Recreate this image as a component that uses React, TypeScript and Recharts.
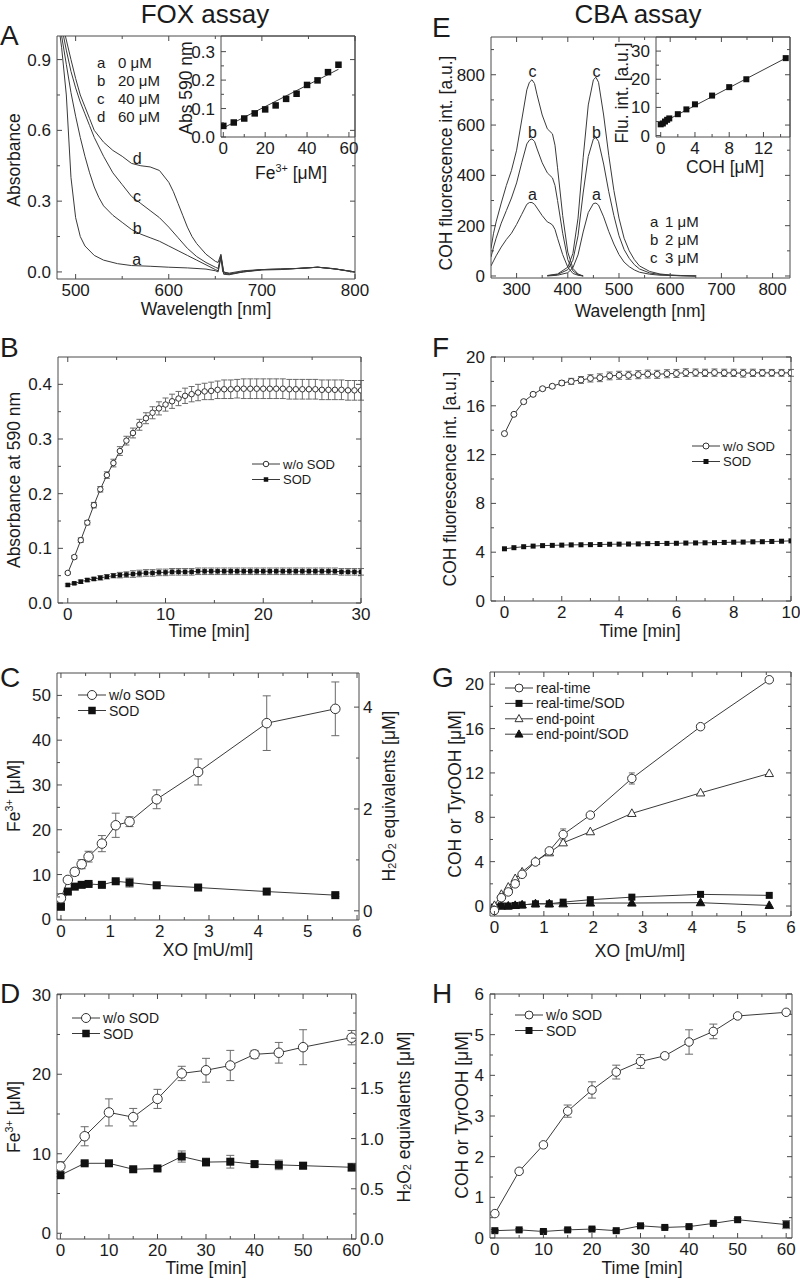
import React from "react";
import { ComposedChart, Line, XAxis, YAxis, ErrorBar, ReferenceDot } from "recharts";

// ---------- A: FOX spectra (wavelength [nm] / absorbance) ----------
const foxWlA = [480, 485, 490, 495, 500, 505, 510, 520, 530, 545, 560, 580, 600, 620, 640, 650, 653, 656, 658, 665, 680, 700, 720, 740, 760, 775, 790, 800];
const foxAbsA = [1.1, 0.95, 0.75, 0.4, 0.23, 0.15, 0.11, 0.07, 0.05, 0.035, 0.027, 0.024, 0.02, 0.017, 0.012, 0.005, 0.0, 0.06, 0.0, -0.005, 0.005, 0.01, 0.012, 0.015, 0.02, 0.015, 0.005, 0.0];
const foxWlB = [480, 485, 490, 495, 500, 505, 510, 515, 520, 525, 530, 540, 550, 560, 570, 580, 590, 600, 610, 620, 630, 640, 650, 653, 656, 659, 665, 680, 700, 720, 740, 760, 780, 800];
const foxAbsB = [1.15, 1.0, 0.88, 0.76, 0.66, 0.57, 0.49, 0.42, 0.36, 0.315, 0.28, 0.24, 0.21, 0.18, 0.16, 0.145, 0.13, 0.11, 0.09, 0.07, 0.05, 0.03, 0.01, 0.005, 0.065, -0.01, -0.012, 0.0, 0.008, 0.01, 0.015, 0.02, 0.012, 0.0];
const foxWlC = [480, 487, 490, 495, 500, 505, 510, 515, 520, 530, 540, 550, 560, 570, 580, 590, 600, 610, 620, 630, 640, 650, 653, 656, 659, 665, 680, 700, 720, 740, 760, 780, 800];
const foxAbsC = [1.2, 1.0, 0.94, 0.85, 0.78, 0.72, 0.67, 0.62, 0.57, 0.49, 0.42, 0.37, 0.32, 0.29, 0.26, 0.23, 0.19, 0.145, 0.1, 0.065, 0.04, 0.02, 0.015, 0.07, -0.005, -0.01, 0.002, 0.01, 0.012, 0.015, 0.02, 0.012, 0.0];
const foxWlD = [480, 489, 495, 500, 505, 510, 515, 520, 530, 540, 550, 560, 570, 580, 590, 600, 605, 610, 615, 620, 625, 630, 640, 650, 653, 656, 659, 665, 680, 700, 720, 740, 760, 780, 800];
const foxAbsD = [1.25, 1.0, 0.9, 0.82, 0.75, 0.7, 0.65, 0.6, 0.55, 0.515, 0.49, 0.46, 0.45, 0.445, 0.43, 0.38, 0.34, 0.29, 0.24, 0.19, 0.15, 0.12, 0.075, 0.045, 0.04, 0.075, 0.0, -0.008, 0.0, 0.01, 0.012, 0.015, 0.02, 0.012, 0.0];
const foxLetters = ["a", "b", "c", "d"];
const foxConc = ["0 μM", "20 μM", "40 μM", "60 μM"];
const foxLabelWl = [565.6, 566, 566, 566];
const foxLabelAbs = [0.054, 0.186, 0.32, 0.48];

// A inset: calibration
const insFeA = [0, 5, 10, 15, 20, 25, 30, 35, 40, 45, 50, 55];
const insAbsA = [0.039, 0.051, 0.065, 0.083, 0.097, 0.111, 0.134, 0.152, 0.183, 0.199, 0.228, 0.254];
const insFitXA = [0, 55];
const insFitYA = [0.032, 0.238];

// ---------- B: absorbance at 590 nm vs time ----------
const timeB = [0, 0.67, 1.33, 2, 2.67, 3.33, 4, 4.67, 5.33, 6, 6.67, 7.33, 8, 8.67, 9.33, 10, 10.67, 11.33, 12, 12.67, 13.33, 14, 14.67, 15.33, 16, 16.67, 17.33, 18, 18.67, 19.33, 20, 20.67, 21.33, 22, 22.67, 23.33, 24, 24.67, 25.33, 26, 26.67, 27.33, 28, 28.67, 29.33, 30];
const absWoB = [0.055, 0.084, 0.115, 0.147, 0.179, 0.208, 0.234, 0.256, 0.278, 0.297, 0.311, 0.326, 0.338, 0.348, 0.356, 0.363, 0.369, 0.374, 0.379, 0.382, 0.385, 0.387, 0.388, 0.39, 0.391, 0.391, 0.392, 0.392, 0.392, 0.392, 0.392, 0.392, 0.392, 0.392, 0.391, 0.391, 0.391, 0.391, 0.391, 0.39, 0.39, 0.39, 0.39, 0.389, 0.389, 0.389];
const absWoErrB = [0.002, 0.003, 0.004, 0.004, 0.005, 0.005, 0.006, 0.007, 0.008, 0.008, 0.009, 0.01, 0.01, 0.011, 0.012, 0.012, 0.013, 0.013, 0.014, 0.014, 0.015, 0.015, 0.016, 0.016, 0.017, 0.017, 0.017, 0.018, 0.018, 0.018, 0.018, 0.018, 0.018, 0.018, 0.018, 0.018, 0.018, 0.018, 0.018, 0.018, 0.018, 0.018, 0.018, 0.018, 0.018, 0.018];
const absSodB = [0.033, 0.036, 0.039, 0.042, 0.044, 0.046, 0.048, 0.05, 0.051, 0.052, 0.053, 0.054, 0.055, 0.055, 0.056, 0.056, 0.057, 0.057, 0.057, 0.057, 0.058, 0.058, 0.058, 0.058, 0.058, 0.058, 0.058, 0.058, 0.058, 0.058, 0.058, 0.058, 0.058, 0.058, 0.058, 0.058, 0.058, 0.058, 0.058, 0.058, 0.058, 0.058, 0.057, 0.057, 0.057, 0.057];
const absSodErrB = [0.002, 0.002, 0.003, 0.003, 0.003, 0.004, 0.004, 0.004, 0.005, 0.005, 0.006, 0.006, 0.006, 0.006, 0.006, 0.006, 0.006, 0.006, 0.006, 0.006, 0.006, 0.006, 0.006, 0.006, 0.006, 0.006, 0.006, 0.006, 0.006, 0.006, 0.006, 0.006, 0.006, 0.006, 0.006, 0.006, 0.006, 0.006, 0.006, 0.006, 0.006, 0.006, 0.006, 0.006, 0.006, 0.006];

// ---------- C: Fe3+ vs XO ----------
const xoC = [0, 0.14, 0.28, 0.42, 0.56, 0.83, 1.11, 1.39, 1.94, 2.78, 4.17, 5.56];
const feWoC = [4.7, 8.8, 10.6, 12.3, 14.0, 16.9, 21.0, 21.8, 26.8, 32.9, 43.8, 47.0];
const feWoErrC = [1.0, 0.5, 0.8, 1.0, 1.2, 1.8, 2.7, 1.1, 2.1, 2.9, 6.1, 6.0];
const feSodC = [2.8, 6.2, 7.3, 7.7, 7.9, 7.7, 8.5, 8.2, 7.6, 7.1, 6.2, 5.4];
const feSodErrC = [0.3, 0.3, 0.3, 0.3, 0.3, 0.3, 0.3, 1.0, 0.3, 0.3, 0.3, 0.3];

// ---------- D: Fe3+ vs time ----------
const timeD = [0, 5, 10, 15, 20, 25, 30, 35, 40, 45, 50, 60];
const feWoD = [8.4, 12.2, 15.2, 14.6, 16.9, 20.1, 20.5, 21.1, 22.5, 22.7, 23.4, 24.6];
const feWoErrD = [0.6, 1.2, 1.7, 1.1, 1.2, 0.9, 1.5, 1.9, 0.5, 1.3, 2.2, 0.9];
const feSodD = [7.3, 8.8, 8.8, 8.05, 8.15, 9.65, 8.95, 9.0, 8.7, 8.6, 8.5, 8.3];
const feSodErrD = [0.2, 0.2, 0.2, 0.2, 0.2, 0.7, 0.5, 0.8, 0.3, 0.6, 0.4, 0.5];

// ---------- E: CBA spectra (excitation / emission) ----------
const exWlE = [250, 255, 260, 270, 280, 290, 300, 310, 320, 325, 330, 335, 340, 350, 360, 365, 370, 375, 380, 390, 400, 410, 420, 430];
const exAE = [40, 60, 80, 115, 145, 170, 205, 245, 285, 292, 292, 285, 270, 240, 215, 210, 203, 185, 150, 85, 35, 10, 3, 0];
const exBE = [75, 115, 150, 210, 260, 310, 370, 450, 525, 540, 545, 535, 505, 450, 410, 400, 390, 360, 300, 170, 65, 20, 5, 0];
const exCE = [110, 170, 215, 290, 360, 420, 500, 620, 740, 770, 780, 765, 720, 640, 585, 575, 565, 520, 430, 240, 95, 30, 8, 0];
const emWlE = [360, 380, 400, 410, 420, 430, 440, 450, 455, 460, 470, 480, 490, 500, 510, 520, 530, 540, 560, 580, 600, 620, 650];
const emAE = [0, 3, 13, 33, 84, 175, 252, 288, 290, 282, 235, 177, 127, 85, 55, 37, 24, 15, 7, 3, 2, 1, 0];
const emBE = [1, 6, 25, 63, 160, 330, 475, 545, 550, 535, 445, 335, 240, 160, 105, 70, 45, 28, 12, 6, 3, 1, 0];
const emCE = [2, 8, 35, 90, 230, 470, 680, 780, 790, 770, 640, 480, 340, 230, 150, 100, 65, 40, 18, 8, 4, 2, 0];
const cbaLetters = ["a", "b", "c"];
const cbaConc = ["1 μM", "2 μM", "3 μM"];
const cbaLabelExWl = [331, 331, 331];
const cbaLabelEmWl = [456, 456, 456];
const cbaLabelInt = [326, 570, 814];

// E inset: calibration
const insCohE = [0, 0.25, 0.5, 0.75, 1, 2, 3, 4, 6, 8, 10, 14.6];
const insFluE = [4.0, 4.3, 5.0, 5.6, 6.1, 7.6, 9.3, 11.1, 14.2, 17.2, 20.0, 27.5];
const insFitXE = [0, 14.6];
const insFitYE = [4.3, 27.5];

// ---------- F: COH fluorescence vs time ----------
const timeF = [0, 0.33, 0.67, 1, 1.33, 1.67, 2, 2.33, 2.67, 3, 3.33, 3.67, 4, 4.33, 4.67, 5, 5.33, 5.67, 6, 6.33, 6.67, 7, 7.33, 7.67, 8, 8.33, 8.67, 9, 9.33, 9.67, 10];
const fluWoF = [13.72, 15.3, 16.34, 16.94, 17.4, 17.6, 17.87, 18.0, 18.12, 18.25, 18.3, 18.45, 18.5, 18.5, 18.55, 18.6, 18.58, 18.63, 18.65, 18.72, 18.72, 18.7, 18.72, 18.7, 18.7, 18.67, 18.7, 18.7, 18.7, 18.7, 18.7];
const fluWoErrF = [0.05, 0.08, 0.1, 0.12, 0.12, 0.15, 0.2, 0.25, 0.28, 0.3, 0.32, 0.32, 0.33, 0.33, 0.33, 0.33, 0.33, 0.33, 0.33, 0.32, 0.3, 0.3, 0.3, 0.3, 0.3, 0.32, 0.3, 0.28, 0.28, 0.28, 0.28];
const fluSodF = [4.28, 4.37, 4.45, 4.5, 4.54, 4.56, 4.58, 4.6, 4.61, 4.62, 4.63, 4.65, 4.66, 4.67, 4.68, 4.7, 4.71, 4.72, 4.73, 4.75, 4.76, 4.77, 4.78, 4.8, 4.82, 4.83, 4.85, 4.86, 4.88, 4.9, 4.93];

// ---------- G: COH / TyrOOH vs XO ----------
const xoG = [0, 0.14, 0.28, 0.42, 0.56, 0.83, 1.11, 1.39, 1.94, 2.78, 4.17, 5.56];
const rtG = [-0.4, 0.75, 1.27, 2.0, 2.86, 3.97, 4.97, 6.45, 8.2, 11.5, 16.17, 20.4];
const rtErrG = [0.3, 0.15, 0.15, 0.15, 0.15, 0.15, 0.2, 0.5, 0.2, 0.5, 0.2, 0.2];
const rtSodG = [-0.1, 0.0, 0.0, 0.05, 0.1, 0.2, 0.2, 0.35, 0.57, 0.8, 1.05, 0.96];
const epG = [0.05, 1.05, 1.7, 2.47, 3.07, 4.04, 4.8, 5.7, 6.7, 8.35, 10.2, 11.95];
const epSodG = [-0.1, 0.0, 0.0, 0.05, 0.1, 0.2, 0.2, 0.2, 0.27, 0.27, 0.3, 0.05];

// ---------- H: COH / TyrOOH vs time ----------
const timeH = [0, 5, 10, 15, 20, 25, 30, 35, 40, 45, 50, 60];
const cohWoH = [0.6, 1.64, 2.29, 3.12, 3.64, 4.08, 4.34, 4.48, 4.82, 5.08, 5.46, 5.55];
const cohWoErrH = [0.05, 0.05, 0.04, 0.15, 0.2, 0.17, 0.17, 0.06, 0.3, 0.18, 0.03, 0.04];
const cohSodH = [0.18, 0.2, 0.16, 0.2, 0.22, 0.18, 0.3, 0.26, 0.28, 0.36, 0.45, 0.33];
const cohSodErrH = [0.03, 0.03, 0.03, 0.03, 0.03, 0.03, 0.03, 0.03, 0.03, 0.03, 0.03, 0.1];

// ---------- styling ----------
const FONT = '"Liberation Sans", Arial, sans-serif';
const INK = "#1b1b1b";
const FRAME = "#4a4a4a";
const LINE = "#3a3a3a";
const ERR = "#6a6a6a";
const TS = 17.5; // axis title size

const f0 = (v: number) => String(v);
const f1 = (v: number) => v.toFixed(1);

type Pt = { x: number; y: number; e: number };
const pts = (xs: number[], ys: number[], es?: number[]): Pt[] =>
  xs.map((x, i) => ({ x, y: ys[i], e: es ? es[i] : 0 }));

type Mk = "circle" | "square" | "triOpen" | "triFill";

function triPath(cx: number, cy: number, s: number) {
  const h = s * 0.9;
  return `M${cx},${cy - h * 0.6}L${cx + s / 2},${cy + h * 0.4}L${cx - s / 2},${cy + h * 0.4}Z`;
}

function shape(kind: Mk, cx: number, cy: number, s: number, key?: string) {
  if (cx == null || cy == null || isNaN(cx) || isNaN(cy)) return <g key={key} />;
  if (kind === "circle")
    return <circle key={key} cx={cx} cy={cy} r={s / 2} fill="#fff" stroke="#333" strokeWidth={1} />;
  if (kind === "square")
    return <rect key={key} x={cx - s / 2} y={cy - s / 2} width={s} height={s} fill="#111" />;
  if (kind === "triOpen")
    return <path key={key} d={triPath(cx, cy, s)} fill="#fff" stroke="#333" strokeWidth={1} />;
  return <path key={key} d={triPath(cx, cy, s)} fill="#111" stroke="#111" strokeWidth={1} />;
}

type Side = "bottom" | "top" | "left" | "right";

function makeTick(side: Side, major: number[], fmt: ((v: number) => string) | null, fs = 17) {
  return (p: any) => {
    const v = Number(p.payload?.value);
    const isMajor = major.some((m) => Math.abs(m - v) < 1e-6);
    const len = isMajor ? 5 : 3;
    const x = p.x;
    const y = p.y;
    let x2 = x;
    let y2 = y;
    let tx = x;
    let ty = y;
    let anchor: "start" | "middle" | "end" = "middle";
    if (side === "bottom") {
      y2 = y - len;
      ty = y + 17;
    } else if (side === "top") {
      y2 = y + len;
    } else if (side === "left") {
      x2 = x + len;
      tx = x - 6;
      ty = y + 6;
      anchor = "end";
    } else {
      x2 = x - len;
      tx = x + 4;
      ty = y + 6;
      anchor = "start";
    }
    return (
      <g>
        <line x1={x} y1={y} x2={x2} y2={y2} stroke={FRAME} strokeWidth={1} />
        {isMajor && fmt ? (
          <text x={tx} y={ty} textAnchor={anchor} fontSize={fs} fontFamily={FONT} fill={INK}>
            {fmt(v)}
          </text>
        ) : null}
      </g>
    );
  };
}

type Box = { x0: number; y0: number; x1: number; y1: number };
type Ax = { domain: [number, number]; major: number[]; minor?: number[]; fmt?: (v: number) => string };

const allTicks = (a: Ax) => [...a.major, ...(a.minor ?? [])].sort((p, q) => p - q);

function Plot({ box, x, y, yr, mirror = true, children }: { box: Box; x: Ax; y: Ax; yr?: Ax; mirror?: boolean; children?: React.ReactNode }) {
  const LW = 70;
  const TH = 8;
  const BH = 36;
  const RW = yr ? 50 : 25;
  const w = box.x1 - box.x0 + LW + RW;
  const h = box.y1 - box.y0 + TH + BH;
  const ry = yr ?? y;
  return (
    <div style={{ position: "absolute", left: box.x0 - LW, top: box.y0 - TH, width: w, height: h }}>
      <ComposedChart width={w} height={h} margin={{ top: 0, right: 0, bottom: 0, left: 0 }}>
        <XAxis xAxisId="b" dataKey="x" type="number" orientation="bottom" height={BH} domain={x.domain} allowDataOverflow ticks={allTicks(x)} interval={0} tickSize={0} tickMargin={0} tickLine={false} axisLine={{ stroke: FRAME }} tick={makeTick("bottom", x.major, x.fmt ?? f0)} />
        <XAxis xAxisId="t" dataKey="x" type="number" orientation="top" height={TH} domain={x.domain} allowDataOverflow ticks={allTicks(x)} interval={0} tickSize={0} tickMargin={0} tickLine={false} axisLine={{ stroke: FRAME }} tick={mirror ? makeTick("top", x.major, null) : false} />
        <YAxis yAxisId="l" type="number" orientation="left" width={LW} domain={y.domain} allowDataOverflow ticks={allTicks(y)} interval={0} tickSize={0} tickMargin={0} tickLine={false} axisLine={{ stroke: FRAME }} tick={makeTick("left", y.major, y.fmt ?? f0)} />
        <YAxis yAxisId="r" type="number" orientation="right" width={RW} domain={ry.domain} allowDataOverflow ticks={allTicks(ry)} interval={0} tickSize={0} tickMargin={0} tickLine={false} axisLine={{ stroke: FRAME }} tick={yr ? makeTick("right", yr.major, yr.fmt ?? f0) : mirror ? makeTick("right", y.major, null) : false} />
        {children}
      </ComposedChart>
    </div>
  );
}

function series(key: string, data: Pt[], kind: Mk | null, s: number, opts: { line?: boolean; err?: boolean; errW?: number } = {}) {
  const { line = true, err = false, errW = 4 } = opts;
  return (
    <Line
      key={key}
      xAxisId="b"
      yAxisId="l"
      data={data}
      dataKey="y"
      type="linear"
      stroke={line ? LINE : "none"}
      strokeWidth={1}
      isAnimationActive={false}
      activeDot={false}
      dot={kind ? (p: any) => shape(kind, p.cx, p.cy, s, `${key}-${p.index}`) : false}
    >
      {err ? <ErrorBar dataKey="e" width={errW} stroke={ERR} strokeWidth={1} direction="y" /> : null}
    </Line>
  );
}

function letterDot(key: string, x: number, y: number, text: string) {
  return (
    <ReferenceDot
      key={key}
      xAxisId="b"
      yAxisId="l"
      x={x}
      y={y}
      r={0}
      fill="none"
      stroke="none"
      label={{ value: text, position: "center", fill: INK, fontSize: 16, fontFamily: FONT }}
    />
  );
}

// SVG text overlay helpers
function T({ x, y, size = TS, rot = false, anchor = "middle", base = false, children }: { x: number; y: number; size?: number; rot?: boolean; anchor?: "start" | "middle" | "end"; base?: boolean; children: React.ReactNode }) {
  return (
    <text
      x={x}
      y={y}
      fontSize={size}
      textAnchor={anchor}
      dominantBaseline={base ? "alphabetic" : "central"}
      fill={INK}
      fontFamily={FONT}
      transform={rot ? `rotate(-90 ${x} ${y})` : undefined}
    >
      {children}
    </text>
  );
}

const sup = (t: string) => (
  <tspan fontSize="0.62em" baselineShift="45%">{t}</tspan>
);
const sub = (t: string) => (
  <tspan fontSize="0.62em" baselineShift="-25%">{t}</tspan>
);

type LegRow = { label: string; kind: Mk; s: number };
function legend(key: string, x: number, y: number, rows: LegRow[], fs = 14, gap = 15.5, lw = 28) {
  return (
    <g key={key}>
      {rows.map((r, i) => {
        const cy = y + i * gap;
        return (
          <g key={i}>
            <line x1={x} y1={cy} x2={x + lw} y2={cy} stroke={LINE} strokeWidth={1} />
            {shape(r.kind, x + lw / 2, cy, r.s)}
            <text x={x + lw + 3} y={cy} fontSize={fs} dominantBaseline="central" fill={INK} fontFamily={FONT}>
              {r.label}
            </text>
          </g>
        );
      })}
    </g>
  );
}

export default function App() {
  const foxCurves = [
    pts(foxWlA, foxAbsA),
    pts(foxWlB, foxAbsB),
    pts(foxWlC, foxAbsC),
    pts(foxWlD, foxAbsD),
  ];
  const cbaEx = [pts(exWlE, exAE), pts(exWlE, exBE), pts(exWlE, exCE)];
  const cbaEm = [pts(emWlE, emAE), pts(emWlE, emBE), pts(emWlE, emCE)];

  return (
    <div style={{ position: "absolute", left: 0, top: 0, width: 800, height: 1280, background: "#fff", fontFamily: FONT, color: INK, overflow: "hidden" }}>
      {/* A */}
      <Plot box={{ x0: 57, y0: 36, x1: 355, y1: 279 }} x={{ domain: [480, 800], major: [500, 600, 700, 800], minor: [550, 650, 750] }} y={{ domain: [-0.03, 1.0], major: [0, 0.3, 0.6, 0.9], minor: [0.15, 0.45, 0.75], fmt: f1 }}>
        {foxCurves.map((c, i) => series(`fox${i}`, c, null, 0))}
        {foxLetters.map((l, i) => letterDot(`foxl${i}`, foxLabelWl[i], foxLabelAbs[i], l))}
      </Plot>
      <Plot box={{ x0: 221, y0: 36, x1: 355, y1: 137 }} mirror={false} x={{ domain: [-1.1, 62.9], major: [0, 20, 40, 60], minor: [10, 30, 50] }} y={{ domain: [0, 0.355], major: [0, 0.1, 0.2, 0.3], minor: [0.05, 0.15, 0.25], fmt: f1 }}>
        {series("insAfit", pts(insFitXA, insFitYA), null, 0)}
        {series("insA", pts(insFeA, insAbsA), "square", 6.5, { line: false })}
      </Plot>

      {/* E */}
      <Plot box={{ x0: 491, y0: 37, x1: 790, y1: 278 }} x={{ domain: [250, 834], major: [300, 400, 500, 600, 700, 800], minor: [350, 450, 550, 650, 750] }} y={{ domain: [-8, 950], major: [0, 200, 400, 600, 800], minor: [100, 300, 500, 700, 900] }}>
        {cbaEx.map((c, i) => series(`ex${i}`, c, null, 0))}
        {cbaEm.map((c, i) => series(`em${i}`, c, null, 0))}
        {cbaLetters.map((l, i) => letterDot(`exl${i}`, cbaLabelExWl[i], cbaLabelInt[i], l))}
        {cbaLetters.map((l, i) => letterDot(`eml${i}`, cbaLabelEmWl[i], cbaLabelInt[i], l))}
      </Plot>
      <Plot box={{ x0: 656, y0: 37, x1: 790, y1: 137 }} mirror={false} x={{ domain: [-0.55, 15.1], major: [0, 4, 8, 12], minor: [2, 6, 10, 14] }} y={{ domain: [-0.5, 35], major: [0, 10, 20, 30], minor: [5, 15, 25] }}>
        {series("insEfit", pts(insFitXE, insFitYE), null, 0)}
        {series("insE", pts(insCohE, insFluE), "square", 6, { line: false })}
      </Plot>

      {/* B */}
      <Plot box={{ x0: 58, y0: 357, x1: 361, y1: 603 }} x={{ domain: [-1, 30], major: [0, 10, 20, 30], minor: [5, 15, 25] }} y={{ domain: [0, 0.45], major: [0, 0.1, 0.2, 0.3, 0.4], minor: [0.05, 0.15, 0.25, 0.35], fmt: f1 }}>
        {series("bsod", pts(timeB, absSodB, absSodErrB), "square", 4.5, { err: true, errW: 3 })}
        {series("bwo", pts(timeB, absWoB, absWoErrB), "circle", 5.5, { err: true, errW: 3 })}
      </Plot>

      {/* F */}
      <Plot box={{ x0: 491, y0: 357, x1: 791, y1: 601 }} x={{ domain: [-0.47, 10], major: [0, 2, 4, 6, 8, 10], minor: [1, 3, 5, 7, 9] }} y={{ domain: [0, 20], major: [0, 4, 8, 12, 16, 20], minor: [2, 6, 10, 14, 18] }}>
        {series("fsod", pts(timeF, fluSodF), "square", 5)}
        {series("fwo", pts(timeF, fluWoF, fluWoErrF), "circle", 6, { err: true, errW: 3 })}
      </Plot>

      {/* C */}
      <Plot box={{ x0: 57, y0: 673, x1: 359, y1: 920 }} x={{ domain: [-0.08, 6.04], major: [0, 1, 2, 3, 4, 5, 6], minor: [0.5, 1.5, 2.5, 3.5, 4.5, 5.5] }} y={{ domain: [-0.15, 55], major: [0, 10, 20, 30, 40, 50], minor: [5, 15, 25, 35, 45] }} yr={{ domain: [-0.18, 4.67], major: [0, 2, 4], minor: [1, 3] }}>
        {series("csod", pts(xoC, feSodC, feSodErrC), "square", 8, { err: true, errW: 4 })}
        {series("cwo", pts(xoC, feWoC, feWoErrC), "circle", 9.5, { err: true, errW: 4 })}
      </Plot>

      {/* G */}
      <Plot box={{ x0: 490, y0: 672, x1: 791, y1: 916 }} x={{ domain: [-0.09, 6.0], major: [0, 1, 2, 3, 4, 5, 6], minor: [0.5, 1.5, 2.5, 3.5, 4.5, 5.5] }} y={{ domain: [-0.9, 21.1], major: [0, 4, 8, 12, 16, 20], minor: [2, 6, 10, 14, 18] }}>
        {series("gepsod", pts(xoG, epSodG), "triFill", 8.5)}
        {series("grtsod", pts(xoG, rtSodG), "square", 7)}
        {series("gep", pts(xoG, epG), "triOpen", 8.5)}
        {series("grt", pts(xoG, rtG, rtErrG), "circle", 8.5, { err: true, errW: 3 })}
      </Plot>

      {/* D */}
      <Plot box={{ x0: 57, y0: 994, x1: 356, y1: 1239 }} x={{ domain: [-0.7, 60.9], major: [0, 10, 20, 30, 40, 50, 60], minor: [5, 15, 25, 35, 45, 55] }} y={{ domain: [-0.72, 30.09], major: [0, 10, 20, 30], minor: [5, 15, 25] }} yr={{ domain: [0, 2.44], major: [0, 0.5, 1, 1.5, 2], minor: [0.25, 0.75, 1.25, 1.75, 2.25], fmt: f1 }}>
        {series("dsod", pts(timeD, feSodD, feSodErrD), "square", 8, { err: true, errW: 4 })}
        {series("dwo", pts(timeD, feWoD, feWoErrD), "circle", 9.5, { err: true, errW: 4 })}
      </Plot>

      {/* H */}
      <Plot box={{ x0: 490, y0: 994, x1: 792, y1: 1238 }} x={{ domain: [-1, 61.2], major: [0, 10, 20, 30, 40, 50, 60], minor: [5, 15, 25, 35, 45, 55] }} y={{ domain: [0, 6], major: [0, 1, 2, 3, 4, 5, 6], minor: [0.5, 1.5, 2.5, 3.5, 4.5, 5.5] }}>
        {series("hsod", pts(timeH, cohSodH, cohSodErrH), "square", 7, { err: true, errW: 4 })}
        {series("hwo", pts(timeH, cohWoH, cohWoErrH), "circle", 8.5, { err: true, errW: 4 })}
      </Plot>

      {/* titles, axis titles, legends */}
      <svg width={800} height={1280} style={{ position: "absolute", left: 0, top: 0, pointerEvents: "none" }}>
        <T x={205} y={23} size={26} base>FOX assay</T>
        <T x={638} y={23} size={26} base>CBA assay</T>
        <T x={0} y={45} size={28} anchor="start" base>A</T>
        <T x={432} y={37} size={28} anchor="start" base>E</T>
        <T x={0} y={357} size={28} anchor="start" base>B</T>
        <T x={432} y={357} size={28} anchor="start" base>F</T>
        <T x={0} y={687} size={28} anchor="start" base>C</T>
        <T x={432} y={687} size={28} anchor="start" base>G</T>
        <T x={0} y={1003} size={28} anchor="start" base>D</T>
        <T x={432} y={1003} size={28} anchor="start" base>H</T>

        {/* A */}
        {foxLetters.map((l, i) => (
          <g key={`fl${l}`}>
            <T x={97} y={62 + i * 18.3} size={15} anchor="start">{l}</T>
            <T x={118} y={62 + i * 18.3} size={15} anchor="start">{foxConc[i]}</T>
          </g>
        ))}
        <T x={186} y={88} rot>Abs 590 nm</T>
        <T x={291} y={173}>Fe{sup("3+")} [μM]</T>
        <T x={206} y={309}>Wavelength [nm]</T>
        <T x={14} y={160} rot>Absorbance</T>

        {/* E */}
        {cbaLetters.map((l, i) => (
          <g key={`cl${l}`}>
            <T x={650} y={221 + i * 18} size={15} anchor="start">{l}</T>
            <T x={665} y={221 + i * 18} size={15} anchor="start">{cbaConc[i]}</T>
          </g>
        ))}
        <T x={622} y={93} rot>Flu. int. [a.u.]</T>
        <T x={725} y={167}>COH [μM]</T>
        <T x={640} y={311}>Wavelength [nm]</T>
        <T x={446} y={163} rot>COH fluorescence int. [a.u.]</T>

        {/* B */}
        {legend("legB", 252, 464, [{ label: "w/o SOD", kind: "circle", s: 5.5 }, { label: "SOD", kind: "square", s: 4.5 }], 13)}
        <T x={209} y={631}>Time [min]</T>
        <T x={14} y={480} rot>Absorbance at 590 nm</T>

        {/* F */}
        {legend("legF", 692, 446, [{ label: "w/o SOD", kind: "circle", s: 6 }, { label: "SOD", kind: "square", s: 5 }], 13)}
        <T x={640} y={631}>Time [min]</T>
        <T x={450} y={479} rot>COH fluorescence int. [a.u.]</T>

        {/* C */}
        {legend("legC", 78, 695, [{ label: "w/o SOD", kind: "circle", s: 9 }, { label: "SOD", kind: "square", s: 7.5 }], 14)}
        <T x={208} y={950}>XO [mU/ml]</T>
        <T x={14} y={796} rot>Fe{sup("3+")} [μM]</T>
        <T x={389} y={796} rot>H{sub("2")}O{sub("2")} equivalents [μM]</T>

        {/* G */}
        {legend("legG", 505, 688, [{ label: "real-time", kind: "circle", s: 8 }, { label: "real-time/SOD", kind: "square", s: 7 }, { label: "end-point", kind: "triOpen", s: 8 }, { label: "end-point/SOD", kind: "triFill", s: 8 }], 14, 15.4)}
        <T x={640} y={951}>XO [mU/ml]</T>
        <T x={455} y={794} rot>COH or TyrOOH [μM]</T>

        {/* D */}
        {legend("legD", 72, 1018, [{ label: "w/o SOD", kind: "circle", s: 9 }, { label: "SOD", kind: "square", s: 7.5 }], 14)}
        <T x={206} y={1268}>Time [min]</T>
        <T x={14} y={1117} rot>Fe{sup("3+")} [μM]</T>
        <T x={404} y={1117} rot>H{sub("2")}O{sub("2")} equivalents [μM]</T>

        {/* H */}
        {legend("legH", 515, 1015, [{ label: "w/o SOD", kind: "circle", s: 8 }, { label: "SOD", kind: "square", s: 7 }], 14)}
        <T x={642} y={1268}>Time [min]</T>
        <T x={462} y={1115} rot>COH or TyrOOH [μM]</T>
      </svg>
    </div>
  );
}
